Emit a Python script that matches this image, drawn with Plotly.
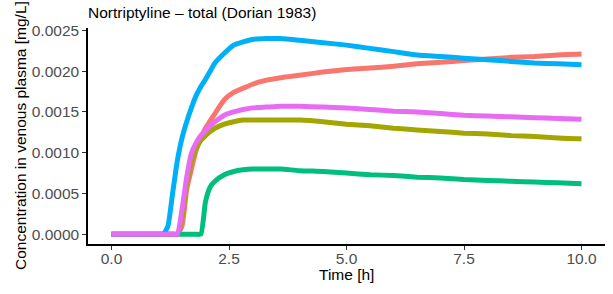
import plotly.graph_objects as go

time_h = [0, 1.0, 1.1, 1.2, 1.3, 1.4, 1.5, 1.6, 1.7, 1.8, 1.9, 2.0, 2.1, 2.2, 2.4, 2.6, 2.8,
          3.0, 3.3, 3.6, 4.0, 4.5, 5.0, 5.5, 6.0, 6.5, 7.0, 7.5, 8.0, 8.5, 9.0, 9.5, 10.0]

red = [0, 0, 0, 0, 0, 0, 0.0001, 0.00055, 0.0008, 0.00103, 0.00118, 0.0013, 0.00139, 0.00148,
       0.00165, 0.00174, 0.00179, 0.00184, 0.00189, 0.00192, 0.00195, 0.00199, 0.00202, 0.00204,
       0.00206, 0.00209, 0.00211, 0.00213, 0.00215, 0.00217, 0.00218, 0.0022, 0.00221]
olive = [0, 0, 0, 0, 0, 0, 0.0002, 0.0006, 0.0009, 0.00105, 0.00115, 0.00121, 0.00126, 0.0013,
         0.00135, 0.00138, 0.0014, 0.0014, 0.0014, 0.0014, 0.0014, 0.00138, 0.00135, 0.00133,
         0.0013, 0.00128, 0.00126, 0.00124, 0.00123, 0.00121, 0.0012, 0.00118, 0.00117]
green = [0, 0, 0, 0, 0, 0, 0, 0, 0, 0, 0, 0.0004, 0.00058, 0.00065, 0.00073, 0.00077, 0.00079,
         0.0008, 0.0008, 0.0008, 0.00078, 0.00077, 0.00075, 0.00073, 0.00072, 0.0007, 0.00069,
         0.00067, 0.00066, 0.00065, 0.00064, 0.00063, 0.00062]
blue = [0, 0, 0, 0.0001, 0.0005, 0.0009, 0.00118, 0.00138, 0.00155, 0.0017, 0.00181, 0.0019,
        0.002, 0.0021, 0.00222, 0.00232, 0.00236, 0.00239, 0.0024, 0.0024, 0.00238, 0.00235,
        0.00232, 0.00228, 0.00224, 0.0022, 0.00218, 0.00216, 0.00214, 0.00212, 0.0021, 0.00209,
        0.00208]
magenta = [0, 0, 0, 0, 0, 0, 0.0003, 0.0007, 0.00099, 0.00112, 0.00121, 0.00127, 0.00133, 0.00138,
           0.00146, 0.0015, 0.00153, 0.00155, 0.00156, 0.00157, 0.00157, 0.00156, 0.00155, 0.00153,
           0.00151, 0.0015, 0.00148, 0.00146, 0.00145, 0.00144, 0.00143, 0.00142, 0.00141]

series = [("1", red, "#F8766D"), ("2", olive, "#A3A500"), ("3", green, "#00BF7D"),
          ("4", blue, "#00B0F6"), ("5", magenta, "#E76BF3")]

x_ticks = [0, 2.5, 5, 7.5, 10]
x_ticklabels = ["0.0", "2.5", "5.0", "7.5", "10.0"]
y_ticks = [0, 0.0005, 0.001, 0.0015, 0.002, 0.0025]
y_ticklabels = ["0.0000", "0.0005", "0.0010", "0.0015", "0.0020", "0.0025"]

fig = go.Figure()
for name, vals, col in series:
    fig.add_trace(go.Scatter(x=time_h, y=vals, mode="lines", name=name,
                             line=dict(color=col, width=5, shape="spline", smoothing=0.5),
                             showlegend=False))

font = "Liberation Sans, Arial, sans-serif"
FS = 15.5
W, H = 613, 294
L, R, T, B = 88, 8, 28, 50
fig.update_layout(
    width=W, height=H,
    margin=dict(l=L, r=R, t=T, b=B, autoexpand=False),
    paper_bgcolor="white", plot_bgcolor="white",
    font=dict(family=font, size=FS, color="#4D4D4D"),
    title=dict(text="Nortriptyline – total (Dorian 1983)", x=L/W, xanchor="left",
               xref="container", y=1-13/H, yref="container", yanchor="middle",
               font=dict(size=FS, color="black", family=font)),
)
fig.update_xaxes(range=[-0.5, 10.5], tickvals=x_ticks, ticktext=x_ticklabels, automargin=False,
                 showgrid=False, zeroline=False, showline=True, linecolor="black", linewidth=1.5,
                 ticks="outside", ticklen=4, tickcolor="#333333", tickwidth=1,
                 ticklabelstandoff=-4)
fig.update_yaxes(range=[-0.00012, 0.00253], tickvals=y_ticks, ticktext=y_ticklabels, automargin=False,
                 showgrid=False, zeroline=False, showline=True, linecolor="black", linewidth=1.5,
                 ticks="outside", ticklen=4, tickcolor="#333333", tickwidth=1)

fig.add_annotation(text="Time [h]", xref="paper", yref="paper",
                   x=0.5, y=-(274 - (H - B)) / (H - T - B), xanchor="center", yanchor="middle",
                   showarrow=False, font=dict(size=FS, color="black", family=font))
fig.add_annotation(text="Concentration in venous plasma [mg/L]", textangle=-90,
                   xref="paper", yref="paper",
                   x=-(L - 20) / (W - L - R), y=1 - (136 - T) / (H - T - B),
                   xanchor="center", yanchor="middle",
                   showarrow=False, font=dict(size=FS, color="black", family=font))

fig.write_html("out.html", config={"displayModeBar": False},
               post_script="document.body.style.margin='0';document.body.style.overflow='hidden';")
